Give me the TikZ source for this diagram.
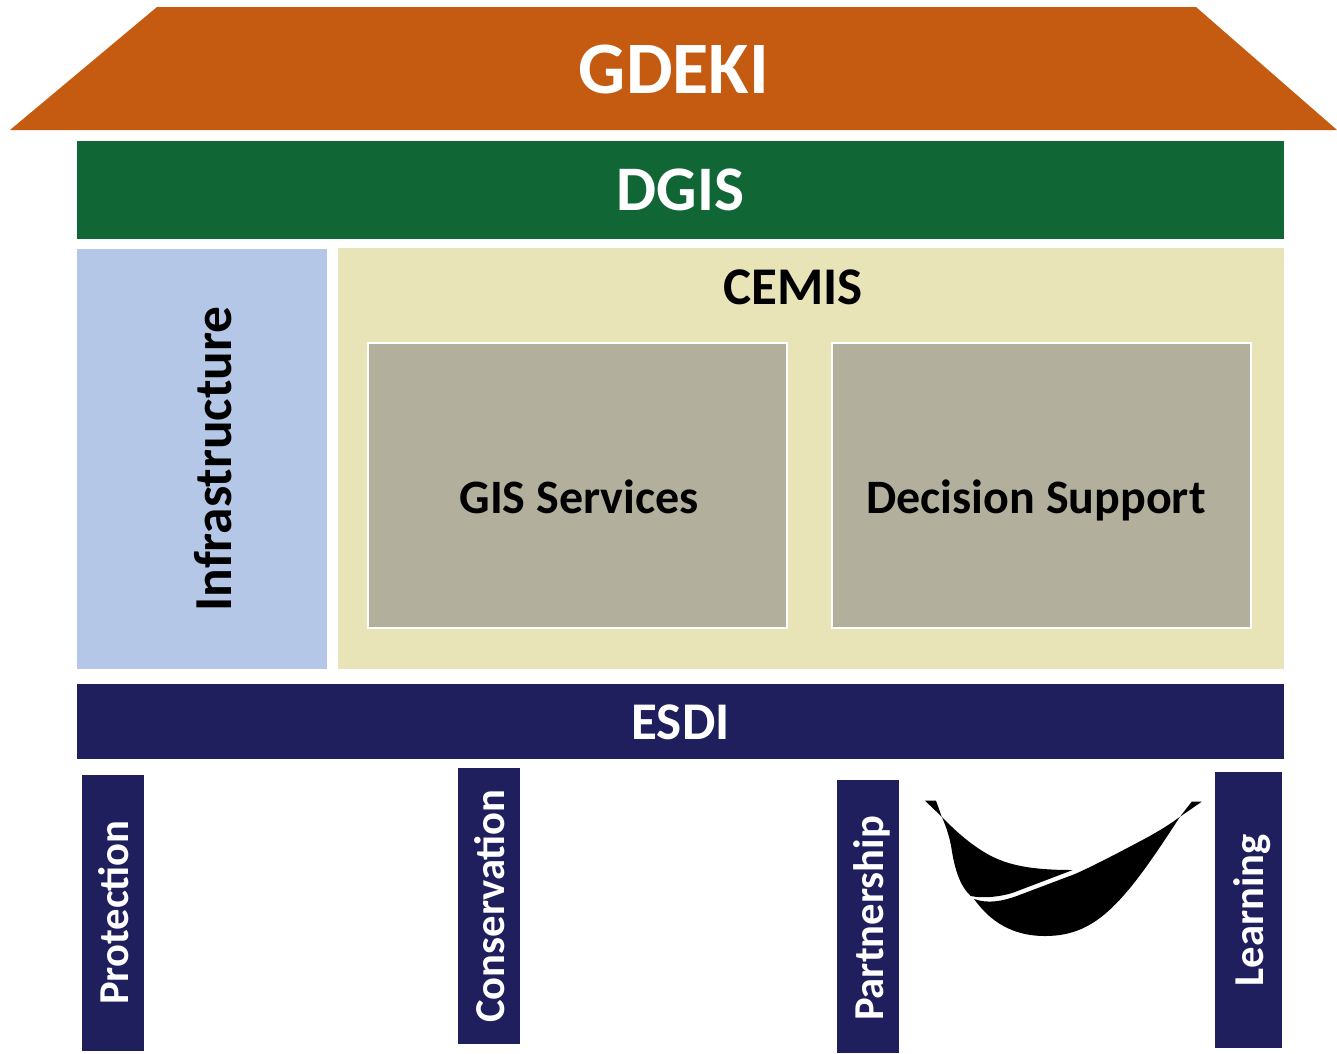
\documentclass[tikz,border=0pt]{standalone}
\usepackage{fontspec}
\setmainfont{Carlito}
\definecolor{roofc}{HTML}{C55A11}
\definecolor{greenc}{HTML}{116636}
\definecolor{bluec}{HTML}{B4C7E7}
\definecolor{creamc}{HTML}{E8E4B8}
\definecolor{greyc}{HTML}{B2B09C}
\definecolor{navyc}{HTML}{201F5E}
\tikzset{
  x=1pt,y=-1pt,
  band/.style={draw=none,inner sep=0pt},
  inner box/.style={fill=greyc,draw=white,line width=2pt,inner sep=0pt},
  pillar/.style={fill=navyc,inner sep=0pt},
  lbl/.style={inner sep=0pt,anchor=base,font=\bfseries\fontsize{#1}{#1}\selectfont},
  pillartext/.style={lbl=42.6,rotate=90,text=white},
}
\begin{document}
\begin{tikzpicture}
\useasboundingbox (0,0) rectangle (1337,1053);
\fill[roofc] (10,130) -- (157,7) -- (1196,7) -- (1337,130) -- cycle;
\node[lbl=74,text=white] (gdeki) at (674,93) {GDEKI};
\node[band,fill=greenc,minimum width=1207,minimum height=98] (dgis) at (680.5,190) {};
\node[lbl=63.5,text=white] (dgistext) at (680.5,210) {DGIS};
\node[band,fill=bluec,minimum width=250,minimum height=420] (infra) at (202,459) {};
\node[lbl=53.4,rotate=90] (infratext) at (231,459) {Infrastructure};
\node[band,fill=creamc,minimum width=946,minimum height=421] (cemis) at (811,458.5) {};
\node[lbl=53] (cemistext) at (793,304.5) {CEMIS};
\node[inner box,minimum width=419,minimum height=285] (gis) at (577.5,485.5) {};
\node[lbl=48] (gistext) at (579,513.5) {GIS Services};
\node[inner box,minimum width=419,minimum height=285] (ds) at (1041.5,485.5) {};
\node[lbl=48] (dstext) at (1036,513.5) {Decision Support};
\node[band,fill=navyc,minimum width=1207,minimum height=75] (esdi) at (680.5,721) {};
\node[lbl=53,text=white] (esditext) at (680.5,739) {ESDI};
\node[pillar,minimum width=62,minimum height=276] (p1) at (113,913) {};
\node[pillartext] (p1t) at (128.5,912.5) {Protection};
\node[pillar,minimum width=62,minimum height=276] (p2) at (489,905.5) {};
\node[pillartext] (p2t) at (504,906) {Conservation};
\node[pillar,minimum width=62,minimum height=273] (p3) at (868,916.5) {};
\node[pillartext] (p3t) at (883.5,918.5) {Partnership};
\node[pillar,minimum width=67,minimum height=276] (p4) at (1248,910) {};
\node[pillartext] (p4t) at (1263,910) {Learning};
\fill[black] (925,800.7) -- (936,800.7) -- (941.7,816.7)
  .. controls (962,838) and (982,853) .. (1000,860)
  .. controls (1020,868) and (1045,870) .. (1072.7,870)
  -- (1013,892.7) .. controls (1003,896) and (985,899) .. (970.7,896)
  .. controls (960,886) and (955,870) .. (951.7,850)
  .. controls (950,838) and (946,826) .. (941.7,816.7) -- cycle;
\fill[black] (1201.7,801.7) -- (1191.7,801.7) -- (1180,816.7)
  .. controls (1165,828) and (1150,836) .. (1133,845)
  .. controls (1110,857) and (1095,865) .. (1075,874)
  -- (1016.7,896) .. controls (1003,901) and (988,904) .. (974,899)
  .. controls (985,914) and (1005,936) .. (1045,936)
  .. controls (1072,936) and (1092,927) .. (1113,906.7)
  .. controls (1135,885) and (1155,855) .. (1180,816.7) -- cycle;
\end{tikzpicture}
\end{document}
